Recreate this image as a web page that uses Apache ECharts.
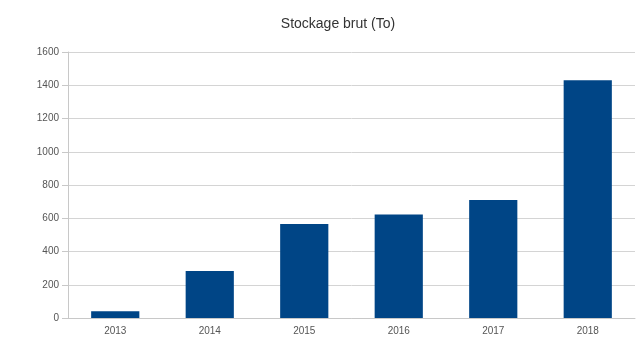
<!DOCTYPE html>
<html>
<head>
    <meta charset="utf-8">
    <style>
        html,body{margin:0;padding:0;background:#fff;}
        #chart{width:637px;height:350px;}
    </style>
</head>
<body>
<div id="chart"></div>
<script src="https://cdn.jsdelivr.net/npm/echarts@6/dist/echarts.min.js"></script>
<script>
    var years = ['2013', '2014', '2015', '2016', '2017', '2018'];
    var stockage = [40, 282, 565, 622, 710, 1430];

    var myChart = echarts.init(document.getElementById('chart'));
    var option = {
        animation: false,
        title: {
            text: 'Stockage brut (To)',
            left: 333,
            textAlign: 'center',
            top: 12,
            textStyle: {fontFamily: 'Liberation Sans', fontSize: 14, fontWeight: 'normal', color: '#333'}
        },
        grid: {left: 68, right: 2, top: 52, bottom: 32},
        xAxis: {
            type: 'category',
            data: years,
            axisLine: {lineStyle: {color: '#c8c8c8'}},
            axisTick: {length: 5, lineStyle: {color: '#c8c8c8'}},
            axisLabel: {fontFamily: 'Liberation Sans', fontSize: 10, color: '#555', margin: 8}
        },
        yAxis: {
            type: 'value',
            min: 0,
            max: 1600,
            interval: 200,
            axisLine: {show: true, lineStyle: {color: '#c8c8c8'}},
            axisTick: {show: true, length: 6, lineStyle: {color: '#c8c8c8'}},
            splitLine: {lineStyle: {color: '#d4d4d4'}},
            axisLabel: {
                fontFamily: 'Liberation Sans', fontSize: 10, color: '#555', margin: 9,
                formatter: function (v) { return String(v); }
            }
        },
        series: [{
            type: 'bar',
            data: stockage,
            barWidth: '51%',
            itemStyle: {color: '#004586'}
        }]
    };
    myChart.setOption(option);
</script>
</body>
</html>
